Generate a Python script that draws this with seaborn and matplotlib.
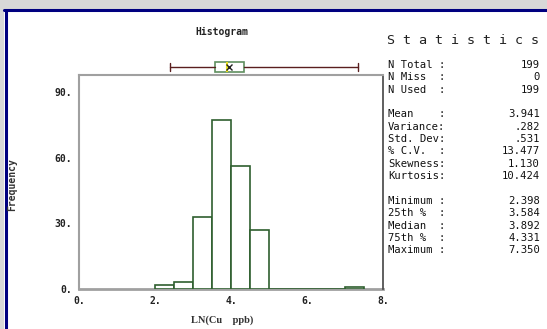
import numpy as np
import matplotlib
matplotlib.use("Agg")
import matplotlib.pyplot as plt
import seaborn as sns
from matplotlib.patches import Rectangle
from matplotlib.lines import Line2D

# ---- data ----
bin_edges = [2.0, 2.5, 3.0, 3.5, 4.0, 4.5, 5.0, 5.5, 6.0, 6.5, 7.0, 7.5]
bin_counts = [2, 3, 33, 77, 56, 27, 0, 0, 0, 0, 1]
x_ticks = [0, 2, 4, 6, 8]
x_ticklabels = ["0.", "2.", "4.", "6.", "8."]
y_ticks = [0, 30, 60, 90]
y_ticklabels = ["0.", "30.", "60.", "90."]
box_stats = {"whislo": 2.398, "q1": 3.584, "med": 3.892, "q3": 4.331,
             "whishi": 7.350, "mean": 3.941}
stat_labels = ["N Total :", "N Miss  :", "N Used  :", None,
               "Mean    :", "Variance:", "Std. Dev:", "% C.V.  :", "Skewness:", "Kurtosis:", None,
               "Minimum :", "25th %  :", "Median  :", "75th %  :", "Maximum :"]
stat_values = ["199", "0", "199", None,
               "3.941", ".282", ".531", "13.477", "1.130", "10.424", None,
               "2.398", "3.584", "3.892", "4.331", "7.350"]

sns.set_style("white")
plt.rcParams["font.family"] = ["DejaVu Sans Mono", "DejaVu Sans"]

W, H = 547, 329
fig = plt.figure(figsize=(W / 100, H / 100), dpi=100)
fig.patch.set_facecolor("white")

def fx(px):
    return px / W

def fy(py):
    return 1 - py / H

# window frame
fig.add_artist(Rectangle((0, fy(9)), 1, 9 / H, transform=fig.transFigure,
                         facecolor="#d8d8d8", edgecolor="none"))
fig.add_artist(Rectangle((0, 0), fx(4), 1, transform=fig.transFigure,
                         facecolor="#d8d8d8", edgecolor="none"))
fig.add_artist(Line2D([fx(4), 1], [fy(10), fy(10)], transform=fig.transFigure,
                      color="#000080", lw=2.2))
fig.add_artist(Line2D([fx(5.5), fx(5.5)], [0, fy(10)], transform=fig.transFigure,
                      color="#000080", lw=2.2))

# histogram axes
left, right, top, bottom = 79, 383, 74.7, 289
ax = fig.add_axes([fx(left), fy(bottom), fx(right - left), (bottom - top) / H])
centers = [(a + b) / 2 for a, b in zip(bin_edges[:-1], bin_edges[1:])]
sns.histplot(x=centers, weights=bin_counts, bins=bin_edges, ax=ax,
             stat="count", fill=True, color="white", edgecolor="#2f5f2f",
             linewidth=1.2, alpha=1)
ax.set_xlim(0, 8)
ax.set_ylim(0, 97.8)
ax.set_xticks(x_ticks)
ax.set_xticklabels(x_ticklabels, fontsize=7, fontweight="bold", color="#222222")
ax.set_yticks(y_ticks)
ax.set_yticklabels(y_ticklabels, fontsize=7, fontweight="bold", color="#222222")
ax.tick_params(axis="both", direction="out", length=3, width=1, color="#444444", pad=2)
ax.set_xlabel("")
ax.set_ylabel("")
for s in ["top", "left"]:
    ax.spines[s].set_color("#a0a0a0")
    ax.spines[s].set_linewidth(1.5)
ax.spines["bottom"].set_color("#a0a0a0")
ax.spines["bottom"].set_linewidth(2)
ax.spines["right"].set_color("#444444")
ax.spines["right"].set_linewidth(1.2)
ax.spines["bottom"].set_zorder(0.5)
ax.set_facecolor("white")

# box plot above the histogram
bax = fig.add_axes([fx(left), fy(74), fx(right - left), 14 / H])
bax.set_xlim(0, 8)
bax.set_ylim(0, 1)
bax.axis("off")
bax.bxp([dict(box_stats, fliers=[], label="")], positions=[0.5], widths=[0.78],
        vert=False, showmeans=True, patch_artist=True,
        boxprops=dict(facecolor="white", edgecolor="#5f8f5f", linewidth=1.2),
        whiskerprops=dict(color="#5a1f1f", linewidth=1),
        capprops=dict(color="#5a1f1f", linewidth=1),
        medianprops=dict(color="#e8e020", linewidth=1.5),
        meanprops=dict(marker="x", markeredgecolor="#222222", markersize=4,
                       markeredgewidth=1), capwidths=[0.6], zorder=3)

# texts
fig.text(fx(222), fy(32), "Histogram", fontsize=7, fontweight="bold",
         ha="center", va="center", color="#222222")
fig.text(fx(463), fy(41), "S t a t i s t i c s", fontsize=9.6, ha="center",
         va="center", color="#222222")
fig.text(fx(12), fy(185), "Frequency", fontsize=7, fontweight="bold", rotation=90,
         ha="center", va="center", color="#333333")
fig.text(fx(222), fy(320), "LN(Cu    ppb)", fontsize=7.5, fontweight="bold",
         family="Liberation Serif", ha="center", va="center", color="#333333")

y0 = 65
step = 12.35
for i, (lab, val) in enumerate(zip(stat_labels, stat_values)):
    if lab is None:
        continue
    yy = y0 + i * step
    fig.text(fx(388), fy(yy), lab, fontsize=7.6, ha="left", va="center", color="#111111")
    fig.text(fx(540), fy(yy), val, fontsize=7.6, ha="right", va="center", color="#111111")

fig.savefig("out.png", dpi=100)
